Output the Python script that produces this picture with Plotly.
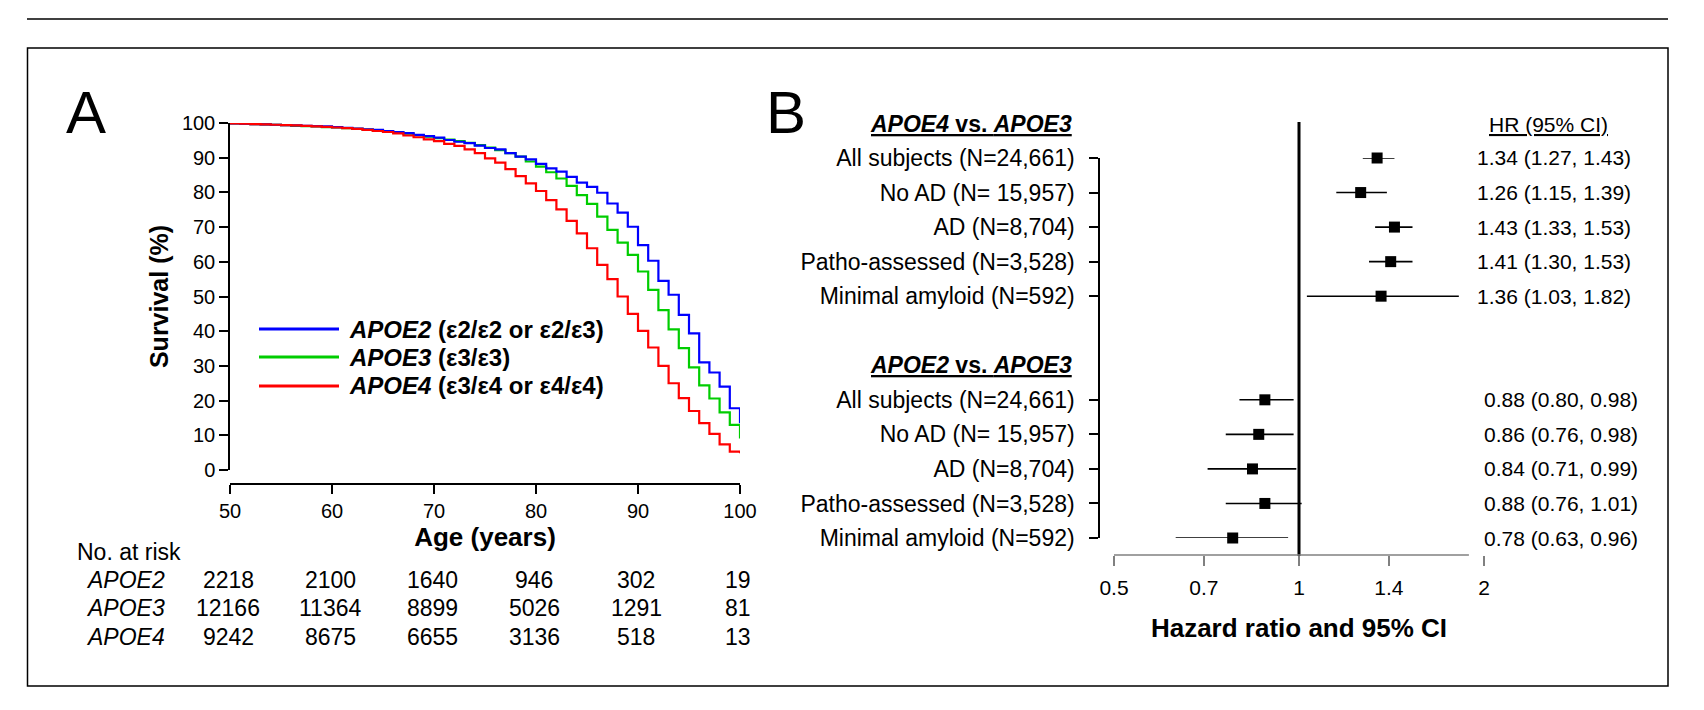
import numpy as np
import plotly.graph_objects as go

W, H = 1704, 710
OFF = 8  # page body margin, compensate so marks land on the reference pixels
FONT = "Liberation Sans, Arial, sans-serif"

# ---- panel A: Kaplan-Meier survival by APOE group ----
ages = list(range(50, 101))
surv_e2 = [99.9, 99.8, 99.7, 99.6, 99.5, 99.4, 99.3, 99.2, 99.1, 99.0,
           98.8, 98.6, 98.4, 98.2, 98.0, 97.7, 97.4, 97.1, 96.6, 96.2,
           95.8, 95.1, 94.6, 94.2, 93.5, 92.8, 92.4, 91.3, 90.3, 89.5,
           88.2, 86.9, 86.0, 84.5, 82.8, 81.6, 79.9, 76.8, 74.2, 70.1,
           64.8, 60.3, 54.5, 50.5, 44.7, 39.4, 31.0, 28.1, 24.0, 17.8,
           13.5]
surv_e3 = [99.9, 99.8, 99.7, 99.6, 99.5, 99.4, 99.2, 99.1, 99.0, 98.8,
           98.7, 98.5, 98.3, 98.1, 97.8, 97.5, 97.2, 96.9, 96.5, 96.1,
           95.6, 95.2, 94.8, 94.3, 93.6, 92.9, 92.2, 91.3, 90.3, 88.9,
           87.4, 85.8, 84.0, 81.9, 79.2, 76.7, 73.0, 69.2, 65.5, 62.0,
           57.2, 51.9, 46.1, 40.5, 35.1, 29.6, 24.4, 20.6, 16.6, 13.0,
           9.1]
surv_e4 = [99.9, 99.8, 99.7, 99.6, 99.5, 99.4, 99.3, 99.2, 99.0, 98.9,
           98.7, 98.5, 98.3, 98.0, 97.7, 97.4, 97.0, 96.4, 95.9, 95.3,
           94.8, 94.0, 93.4, 92.4, 91.3, 89.8, 88.6, 86.7, 84.7, 82.6,
           80.4, 77.8, 75.1, 71.8, 68.2, 63.9, 59.1, 55.0, 50.0, 45.0,
           40.1, 35.3, 30.0, 25.0, 20.7, 17.0, 13.5, 10.4, 7.4, 5.3,
           4.8]

risk_ages = [50, 60, 70, 80, 90, 100]
risk_e2 = [2218, 2100, 1640, 946, 302, 19]
risk_e3 = [12166, 11364, 8899, 5026, 1291, 81]
risk_e4 = [9242, 8675, 6655, 3136, 518, 13]

# ---- panel B: hazard ratios ----
subgroups = ["All subjects (N=24,661)", "No AD (N= 15,957)", "AD (N=8,704)",
             "Patho-assessed (N=3,528)", "Minimal amyloid (N=592)"]
hr_e4 = [1.34, 1.26, 1.43, 1.41, 1.36]
lo_e4 = [1.27, 1.15, 1.33, 1.30, 1.03]
hi_e4 = [1.43, 1.39, 1.53, 1.53, 1.82]
hr_e2 = [0.88, 0.86, 0.84, 0.88, 0.78]
lo_e2 = [0.80, 0.76, 0.71, 0.76, 0.63]
hi_e2 = [0.98, 0.98, 0.99, 1.01, 0.96]
rows_e4 = [0, 1, 2, 3, 4]
rows_e2 = [7, 8, 9, 10, 11]
hr_ticks = [0.5, 0.7, 1, 1.4, 2]


def fx(px):
    return (px - OFF) / W


def fy(py):
    return 1 - (py - OFF) / H


fig = go.Figure()

curves = [
    ("APOE3", surv_e3, "#00CD00"),
    ("APOE2", surv_e2, "#0000FF"),
    ("APOE4", surv_e4, "#FF0000"),
]
for name, vals, col in curves:
    fig.add_trace(go.Scatter(x=ages, y=vals, mode="lines", line_shape="hv",
                             line=dict(color=col, width=2.2), name=name,
                             showlegend=False, xaxis="x", yaxis="y"))

# forest plot
for hr, lo, hi, rows in [(hr_e4, lo_e4, hi_e4, rows_e4), (hr_e2, lo_e2, hi_e2, rows_e2)]:
    hr_a, lo_a, hi_a = np.array(hr), np.array(lo), np.array(hi)
    fig.add_trace(go.Scatter(
        x=hr, y=rows, mode="markers", xaxis="x2", yaxis="y2",
        marker=dict(symbol="square", size=11, color="black"),
        error_x=dict(type="data", symmetric=False, array=hi_a - hr_a,
                     arrayminus=hr_a - lo_a, width=0, thickness=1.6, color="black"),
        cliponaxis=False, showlegend=False))

ann = []

# panel letters
ann.append(dict(text="A", x=fx(86), y=fy(112), font=dict(size=60)))
ann.append(dict(text="B", x=fx(786), y=fy(112), font=dict(size=60)))

# legend for panel A
legend_items = [
    ("<b><i>APOE2</i> (ε2/ε2 or ε2/ε3)</b>", "#0000FF", 329),
    ("<b><i>APOE3</i> (ε3/ε3)</b>", "#00CD00", 357),
    ("<b><i>APOE4</i> (ε3/ε4 or ε4/ε4)</b>", "#FF0000", 386),
]
shapes = []
for txt, col, py in legend_items:
    shapes.append(dict(type="line", xref="paper", yref="paper", x0=fx(259), x1=fx(339),
                       y0=fy(py), y1=fy(py), line=dict(color=col, width=3)))
    ann.append(dict(text=txt, x=fx(347), y=fy(py), xanchor="left", font=dict(size=24)))

# number at risk table
ann.append(dict(text="No. at risk", x=fx(75), y=fy(552), xanchor="left", font=dict(size=23)))
for lab, counts, py in [("APOE2", risk_e2, 580), ("APOE3", risk_e3, 608), ("APOE4", risk_e4, 637)]:
    ann.append(dict(text=f"<i>{lab}</i>", x=fx(167), y=fy(py), xanchor="right", font=dict(size=23)))
    for a, n in zip(risk_ages, counts):
        ann.append(dict(text=str(n), x=a, xref="x", y=fy(py), xshift=-2, font=dict(size=23)))

# panel B headers and HR text
ann.append(dict(text="<u><b><i>APOE4</i> vs. <i>APOE3</i></b></u>", x=fx(1074), y=fy(124),
                xanchor="right", font=dict(size=23)))
ann.append(dict(text="<u><b><i>APOE2</i> vs. <i>APOE3</i></b></u>", x=fx(1074), y=6,
                yref="y2", xanchor="right", font=dict(size=23)))
ann.append(dict(text="<u>HR (95% CI)</u>", x=fx(1548), y=fy(124), font=dict(size=21)))
for hr, lo, hi, rows, left in [(hr_e4, lo_e4, hi_e4, rows_e4, 1475),
                               (hr_e2, lo_e2, hi_e2, rows_e2, 1482)]:
    for h, l, u, r in zip(hr, lo, hi, rows):
        ann.append(dict(text=f"{h:.2f} ({l:.2f}, {u:.2f})", x=fx(left), y=r, yref="y2",
                        xanchor="left", font=dict(size=21)))

for a in ann:
    a.setdefault("xref", "paper")
    a.setdefault("yref", "paper")
    a["showarrow"] = False
    a.setdefault("xanchor", "center")
    a["yanchor"] = "middle"
    a["font"] = dict(family=FONT, color="black", **a["font"])

# reference line at HR = 1
shapes.append(dict(type="line", xref="x2", yref="paper", x0=1, x1=1,
                   y0=fy(556), y1=fy(122), line=dict(color="black", width=3)))
# HR axis baseline stops a little short of the last tick, as in the original
shapes.append(dict(type="line", xref="x2", yref="paper", x0=0.5, x1=1.89,
                   y0=fy(555), y1=fy(555), line=dict(color="#808080", width=1.5)))
# outer frame and top rule
shapes.append(dict(type="line", xref="paper", yref="paper", x0=fx(27), x1=fx(1668),
                   y0=fy(19), y1=fy(19), line=dict(color="black", width=1.5)))
shapes.append(dict(type="rect", xref="paper", yref="paper", x0=fx(27.5), x1=fx(1668),
                   y0=fy(686), y1=fy(48), line=dict(color="black", width=1.5)))

axis_common = dict(showgrid=False, zeroline=False, showline=True, linecolor="black",
                   linewidth=1.5, ticks="outside", tickcolor="black", tickwidth=1.5,
                   automargin=False,
                   tickfont=dict(family=FONT, size=20, color="black"))

fig.update_layout(
    width=W, height=H, autosize=False,
    margin=dict(l=0, r=0, t=0, b=0, pad=0, autoexpand=False),
    paper_bgcolor="white", plot_bgcolor="white",
    showlegend=False,
    font=dict(family=FONT, color="black"),
    xaxis=dict(axis_common, domain=[fx(230), fx(740)], range=[50, 100], anchor="free",
               position=fy(484), tickvals=risk_ages, ticklen=9,
               title=dict(text="<b>Age (years)</b>", font=dict(family=FONT, size=26), standoff=4)),
    yaxis=dict(axis_common, domain=[fy(470), fy(123)], range=[0, 100], anchor="x",
               tickvals=list(range(0, 101, 10)), ticklen=9,
               title=dict(text="<b>Survival (%)</b>", font=dict(family=FONT, size=25), standoff=6)),
    xaxis2=dict(axis_common, type="log", domain=[fx(1114), fx(1484)],
                range=[np.log10(0.5), np.log10(2)], anchor="free", position=fy(555),
                showline=False, tickvals=hr_ticks, ticktext=[str(t) for t in hr_ticks],
                ticklen=10, ticklabelstandoff=4, tickcolor="#808080",
                tickfont=dict(family=FONT, size=21, color="black"),
                title=dict(text="<b>Hazard ratio and 95% CI</b>", font=dict(family=FONT, size=26),
                           standoff=20)),
    yaxis2=dict(axis_common, domain=[fy(538), fy(158)], range=[11, 0], anchor="free",
                position=fx(1099), tickvals=rows_e4 + rows_e2, ticktext=subgroups + subgroups,
                ticklen=9, ticklabelstandoff=10,
                tickfont=dict(family=FONT, size=23, color="black")),
    annotations=ann,
    shapes=shapes,
)

fig.write_html("out.html")
